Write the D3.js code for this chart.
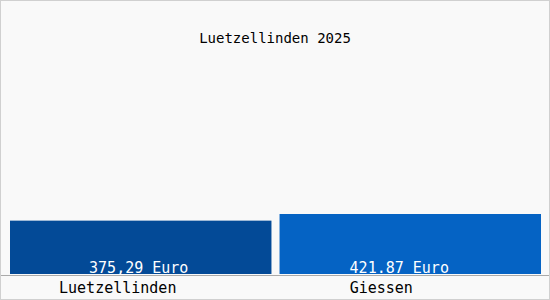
<!DOCTYPE html>
<html lang="de">
<head>
    <meta charset="UTF-8">
    <title>Luetzellinden 2025</title>
    <script src="https://d3js.org/d3.v7.min.js"></script>
    <style>
        body { margin: 0; background: #fff; }
        svg { display: block; font-family: "DejaVu Sans Mono", monospace; }
    </style>
</head>
<body>
    <svg id="chart" width="550" height="300"></svg>
    <script>
        // chart data
        const title = "Luetzellinden 2025";
        const categories = ["Luetzellinden", "Giessen"];
        const values = [375.29, 421.87];
        const valueLabels = ["375,29 Euro", "421.87 Euro"];
        const barColors = ["#034a97", "#0563c4"];
        // small nudges so labels sit where the original puts them
        const valueShift = [-2, -11];
        const catShift = [-23, -29];

        const svg = d3.select("#chart");
        const W = 550, H = 300;
        const baseline = 274;

        // frame
        svg.append("rect")
            .attr("x", 0.5).attr("y", 0.5)
            .attr("width", W - 1).attr("height", H - 1)
            .attr("fill", "#f9f9f9")
            .attr("stroke", "#d0d0d0");

        const x = d3.scaleBand()
            .domain(categories)
            .range([10, 541])
            .paddingInner(0.03);

        const y = d3.scaleLinear()
            .domain([0, 1758])
            .range([baseline, 24]);

        // title
        svg.append("text")
            .attr("x", W / 2)
            .attr("y", 43)
            .attr("text-anchor", "middle")
            .attr("font-size", 14)
            .attr("fill", "#000")
            .text(title);

        // bars
        svg.selectAll(".bar")
            .data(values)
            .enter().append("rect")
            .attr("class", "bar")
            .attr("x", (d, i) => x(categories[i]))
            .attr("y", d => y(d))
            .attr("width", x.bandwidth())
            .attr("height", d => baseline - y(d))
            .attr("fill", (d, i) => barColors[i]);

        // value labels inside bars
        svg.selectAll(".val")
            .data(valueLabels)
            .enter().append("text")
            .attr("class", "val")
            .attr("x", (d, i) => x(categories[i]) + x.bandwidth() / 2 + valueShift[i])
            .attr("y", baseline - 1)
            .attr("text-anchor", "middle")
            .attr("font-size", 15)
            .attr("fill", "#fff")
            .text(d => d);

        // axis line
        svg.append("line")
            .attr("x1", 1).attr("x2", W - 1)
            .attr("y1", baseline + 1.5).attr("y2", baseline + 1.5)
            .attr("stroke", "#aaa");

        // category labels
        svg.selectAll(".cat")
            .data(categories)
            .enter().append("text")
            .attr("class", "cat")
            .attr("x", (d, i) => x(d) + x.bandwidth() / 2 + catShift[i])
            .attr("y", 293)
            .attr("text-anchor", "middle")
            .attr("font-size", 15)
            .attr("fill", "#000")
            .text(d => d);
    </script>
</body>
</html>
